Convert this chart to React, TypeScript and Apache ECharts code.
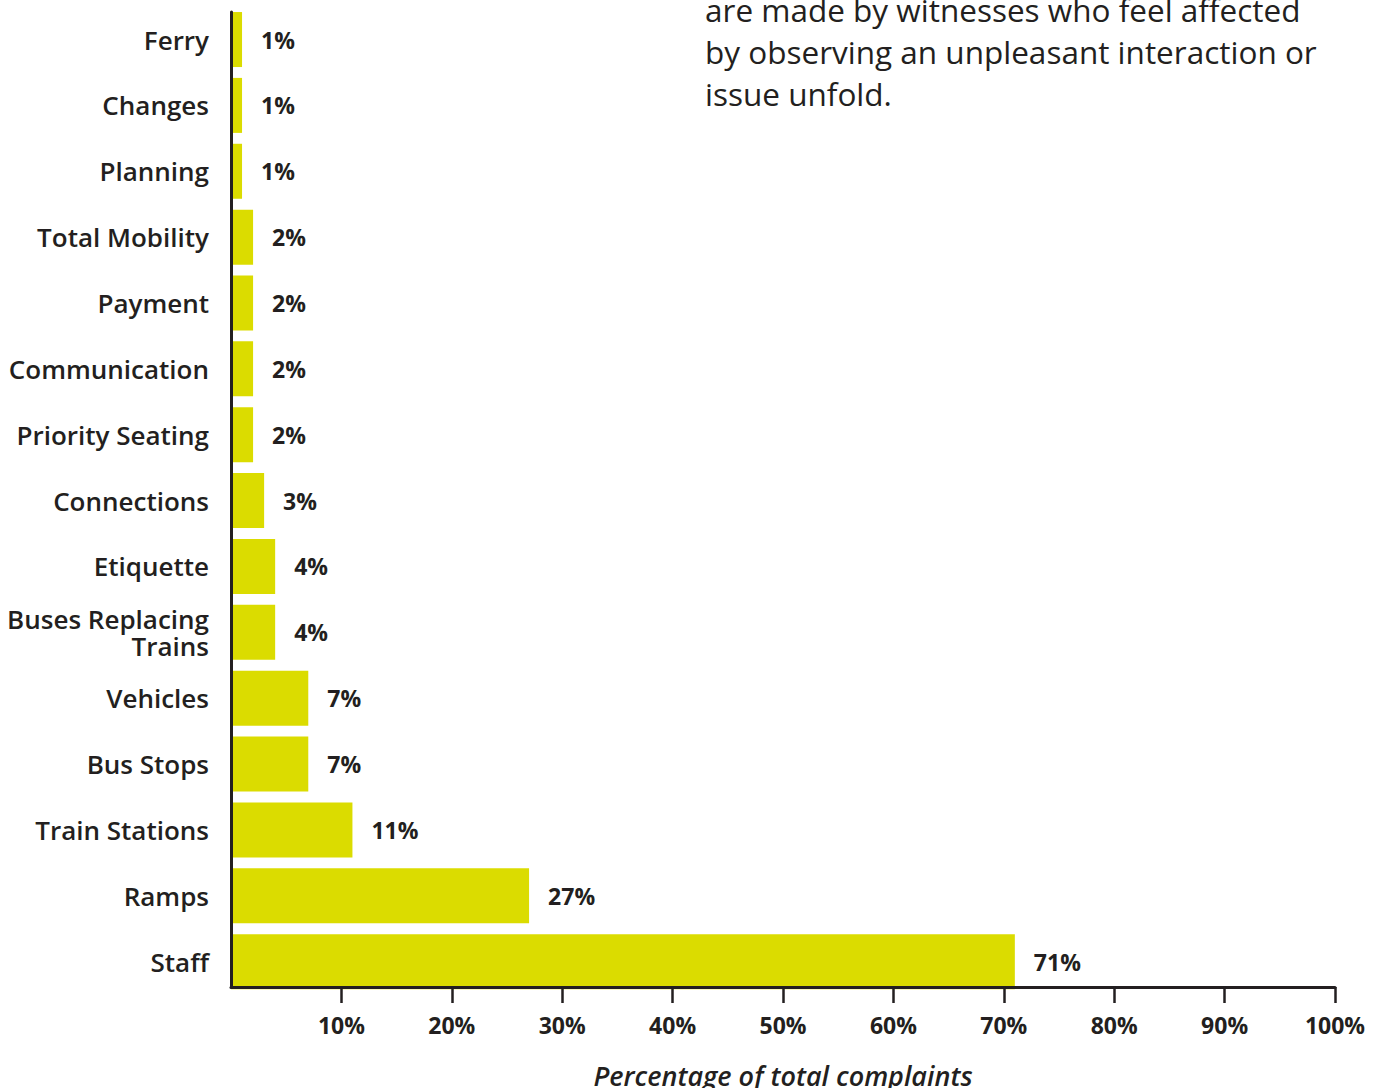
import React, { useEffect, useRef } from 'react';
import * as echarts from 'echarts';

const categories = [
  'Ferry',
  'Changes',
  'Planning',
  'Total Mobility',
  'Payment',
  'Communication',
  'Priority Seating',
  'Connections',
  'Etiquette',
  'Buses Replacing\nTrains',
  'Vehicles',
  'Bus Stops',
  'Train Stations',
  'Ramps',
  'Staff',
];
const values = [1, 1, 1, 2, 2, 2, 2, 3, 4, 4, 7, 7, 11, 27, 71];
const xTicks = [10, 20, 30, 40, 50, 60, 70, 80, 90, 100];
const axisTitle = 'Percentage of total complaints';
const noteLines = [
  'are made by witnesses who feel affected',
  'by observing an unpleasant interaction or',
  'issue unfold.',
];

const DARK = '#231f20';
const BAR = '#dbdc00';
const FONT = '"Open Sans"';

export default function App() {
  const ref = useRef<HTMLDivElement>(null);
  useEffect(() => {
    if (!ref.current) return;
    const chart = echarts.init(ref.current, null, { renderer: 'svg' });
    const option: any = {
      animation: false,
      backgroundColor: '#ffffff',
      textStyle: { fontFamily: FONT },
      grid: [
        { left: 231, width: 1104, top: 6.6, height: 988, containLabel: false, outerBoundsMode: 'none' },
        { left: 231, width: 1104, top: 12, height: 975, containLabel: false, outerBoundsMode: 'none' },
      ],
      xAxis: [
        {
          gridIndex: 0,
          type: 'value',
          min: 0,
          max: 100,
          show: false,
        },
        {
          gridIndex: 1,
          type: 'value',
          min: 0,
          max: 100,
          interval: 10,
          z: 5,
          axisLine: { show: true, lineStyle: { color: DARK, width: 3 } },
          axisTick: {
            show: true,
            length: 16,
            customValues: xTicks,
            lineStyle: { color: DARK, width: 2.5 },
          },
          splitLine: { show: false },
          axisLabel: {
            customValues: xTicks,
            formatter: '{value}%',
            color: DARK,
            fontFamily: FONT,
            fontWeight: 700,
            fontSize: 23,
            margin: 26,
          },
          name: axisTitle,
          nameLocation: 'middle',
          nameGap: 75,
          nameTextStyle: {
            color: DARK,
            fontFamily: FONT,
            fontStyle: 'italic',
            fontWeight: 600,
            fontSize: 27,
          },
        },
      ],
      yAxis: [
        {
          gridIndex: 0,
          type: 'category',
          data: categories,
          inverse: true,
          axisLine: { show: false },
          axisTick: { show: false },
          axisLabel: {
            color: DARK,
            fontFamily: FONT,
            fontWeight: 600,
            fontSize: 26,
            margin: 22,
            lineHeight: 27,
            align: 'right',
          },
        },
        {
          gridIndex: 1,
          type: 'value',
          min: 0,
          max: 1,
          z: 5,
          axisLine: { show: true, lineStyle: { color: DARK, width: 3 } },
          axisTick: { show: false },
          axisLabel: { show: false },
          splitLine: { show: false },
        },
      ],
      series: [
        {
          type: 'bar',
          xAxisIndex: 0,
          yAxisIndex: 0,
          data: values,
          barWidth: 55,
          itemStyle: { color: BAR },
          label: {
            show: true,
            position: 'right',
            distance: 19,
            formatter: '{c}%',
            color: DARK,
            fontFamily: FONT,
            fontWeight: 700,
            fontSize: 23,
          },
        },
      ],
      graphic: [
        {
          type: 'text',
          left: 705,
          top: -12,
          style: {
            text: noteLines.join('\n'),
            fill: DARK,
            font: `400 31.5px ${FONT}`,
            lineHeight: 42,
          },
        },
      ],
    };
    chart.setOption(option);
    return () => chart.dispose();
  }, []);
  return (
    <div
      ref={ref}
      style={{ position: 'fixed', left: 0, top: 0, width: 1384, height: 1088 }}
    />
  );
}
